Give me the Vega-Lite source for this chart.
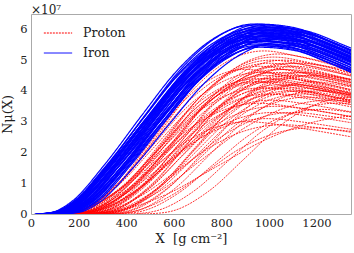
{
"$schema":"https://vega.github.io/schema/vega-lite/v6.json",
"width":320,"height":200,
"autosize":{"type":"none"},
"padding":{"left":31,"top":14,"right":3,"bottom":39},
"title":{"text":"×10⁷","anchor":"start","frame":"group","font":"DejaVu Serif","fontSize":12,"fontWeight":"normal","color":"#222222","offset":0,"dy":3},
"config":{"view":{"stroke":"#aaaaaa","strokeWidth":1},"font":"DejaVu Serif",
"axis":{"domain":false,"ticks":false,"grid":false,"labelFont":"DejaVu Serif","labelFontSize":11.5,"labelColor":"#222222","titleFont":"DejaVu Serif","titleFontSize":13,"titleFontWeight":"normal","titleColor":"#222222","labelFlush":false},
"legend":{"labelFont":"DejaVu Serif"}},
"data":{"values":[
{"g":"I","c":1,"x":15,"y":0},{"g":"I","c":1,"x":90,"y":0.06},{"g":"I","c":1,"x":165,"y":0.37},{"g":"I","c":1,"x":315,"y":1.66},{"g":"I","c":1,"x":465,"y":3.20},{"g":"I","c":1,"x":615,"y":4.67},{"g":"I","c":1,"x":765,"y":5.69},{"g":"I","c":1,"x":915,"y":6.12},{"g":"I","c":1,"x":1065,"y":6.00},{"g":"I","c":1,"x":1215,"y":5.57},{"g":"I","c":1,"x":1415,"y":4.86},
{"g":"I","c":2,"x":25,"y":0},{"g":"I","c":2,"x":100,"y":0.06},{"g":"I","c":2,"x":175,"y":0.36},{"g":"I","c":2,"x":325,"y":1.63},{"g":"I","c":2,"x":475,"y":3.15},{"g":"I","c":2,"x":625,"y":4.60},{"g":"I","c":2,"x":775,"y":5.60},{"g":"I","c":2,"x":925,"y":6.02},{"g":"I","c":2,"x":1075,"y":5.90},{"g":"I","c":2,"x":1225,"y":5.48},{"g":"I","c":2,"x":1425,"y":4.78},
{"g":"I","c":3,"x":20,"y":0},{"g":"I","c":3,"x":95,"y":0.06},{"g":"I","c":3,"x":170,"y":0.36},{"g":"I","c":3,"x":320,"y":1.61},{"g":"I","c":3,"x":470,"y":3.09},{"g":"I","c":3,"x":620,"y":4.52},{"g":"I","c":3,"x":770,"y":5.50},{"g":"I","c":3,"x":920,"y":5.92},{"g":"I","c":3,"x":1070,"y":5.80},{"g":"I","c":3,"x":1220,"y":5.38},{"g":"I","c":3,"x":1420,"y":4.70},
{"g":"I","c":4,"x":35,"y":0},{"g":"I","c":4,"x":110,"y":0.06},{"g":"I","c":4,"x":185,"y":0.35},{"g":"I","c":4,"x":335,"y":1.58},{"g":"I","c":4,"x":485,"y":3.04},{"g":"I","c":4,"x":635,"y":4.45},{"g":"I","c":4,"x":785,"y":5.41},{"g":"I","c":4,"x":935,"y":5.82},{"g":"I","c":4,"x":1085,"y":5.70},{"g":"I","c":4,"x":1235,"y":5.29},{"g":"I","c":4,"x":1435,"y":4.62},
{"g":"I","c":5,"x":45,"y":0},{"g":"I","c":5,"x":120,"y":0.06},{"g":"I","c":5,"x":195,"y":0.37},{"g":"I","c":5,"x":345,"y":1.65},{"g":"I","c":5,"x":495,"y":3.17},{"g":"I","c":5,"x":645,"y":4.64},{"g":"I","c":5,"x":795,"y":5.64},{"g":"I","c":5,"x":945,"y":6.07},{"g":"I","c":5,"x":1095,"y":5.95},{"g":"I","c":5,"x":1245,"y":5.52},{"g":"I","c":5,"x":1445,"y":4.82},
{"g":"I","c":6,"x":30,"y":0},{"g":"I","c":6,"x":105,"y":0.06},{"g":"I","c":6,"x":180,"y":0.35},{"g":"I","c":6,"x":330,"y":1.55},{"g":"I","c":6,"x":480,"y":2.99},{"g":"I","c":6,"x":630,"y":4.37},{"g":"I","c":6,"x":780,"y":5.32},{"g":"I","c":6,"x":930,"y":5.72},{"g":"I","c":6,"x":1080,"y":5.61},{"g":"I","c":6,"x":1230,"y":5.20},{"g":"I","c":6,"x":1430,"y":4.54},
{"g":"I","c":7,"x":55,"y":0},{"g":"I","c":7,"x":130,"y":0.06},{"g":"I","c":7,"x":205,"y":0.34},{"g":"I","c":7,"x":355,"y":1.53},{"g":"I","c":7,"x":505,"y":2.94},{"g":"I","c":7,"x":655,"y":4.29},{"g":"I","c":7,"x":805,"y":5.23},{"g":"I","c":7,"x":955,"y":5.62},{"g":"I","c":7,"x":1105,"y":5.51},{"g":"I","c":7,"x":1255,"y":5.11},{"g":"I","c":7,"x":1455,"y":4.46},
{"g":"I","c":8,"x":65,"y":0},{"g":"I","c":8,"x":140,"y":0.06},{"g":"I","c":8,"x":215,"y":0.35},{"g":"I","c":8,"x":365,"y":1.59},{"g":"I","c":8,"x":515,"y":3.07},{"g":"I","c":8,"x":665,"y":4.48},{"g":"I","c":8,"x":815,"y":5.46},{"g":"I","c":8,"x":965,"y":5.87},{"g":"I","c":8,"x":1115,"y":5.75},{"g":"I","c":8,"x":1265,"y":5.34},{"g":"I","c":8,"x":1465,"y":4.66},
{"g":"I","c":9,"x":75,"y":0},{"g":"I","c":9,"x":150,"y":0.06},{"g":"I","c":9,"x":225,"y":0.36},{"g":"I","c":9,"x":375,"y":1.62},{"g":"I","c":9,"x":525,"y":3.12},{"g":"I","c":9,"x":675,"y":4.56},{"g":"I","c":9,"x":825,"y":5.55},{"g":"I","c":9,"x":975,"y":5.97},{"g":"I","c":9,"x":1125,"y":5.85},{"g":"I","c":9,"x":1275,"y":5.43},{"g":"I","c":9,"x":1475,"y":4.74},
{"g":"I","c":10,"x":40,"y":0},{"g":"I","c":10,"x":115,"y":0.06},{"g":"I","c":10,"x":190,"y":0.33},{"g":"I","c":10,"x":340,"y":1.50},{"g":"I","c":10,"x":490,"y":2.89},{"g":"I","c":10,"x":640,"y":4.22},{"g":"I","c":10,"x":790,"y":5.13},{"g":"I","c":10,"x":940,"y":5.52},{"g":"I","c":10,"x":1090,"y":5.41},{"g":"I","c":10,"x":1240,"y":5.02},{"g":"I","c":10,"x":1440,"y":4.30},
{"g":"I","c":11,"x":85,"y":0},{"g":"I","c":11,"x":160,"y":0.06},{"g":"I","c":11,"x":235,"y":0.35},{"g":"I","c":11,"x":385,"y":1.57},{"g":"I","c":11,"x":535,"y":3.02},{"g":"I","c":11,"x":685,"y":4.41},{"g":"I","c":11,"x":835,"y":5.37},{"g":"I","c":11,"x":985,"y":5.77},{"g":"I","c":11,"x":1135,"y":5.66},{"g":"I","c":11,"x":1285,"y":5.25},{"g":"I","c":11,"x":1485,"y":4.58},
{"g":"I","c":12,"x":100,"y":0},{"g":"I","c":12,"x":175,"y":0.06},{"g":"I","c":12,"x":250,"y":0.34},{"g":"I","c":12,"x":400,"y":1.54},{"g":"I","c":12,"x":550,"y":2.96},{"g":"I","c":12,"x":700,"y":4.33},{"g":"I","c":12,"x":850,"y":5.27},{"g":"I","c":12,"x":1000,"y":5.67},{"g":"I","c":12,"x":1150,"y":5.56},{"g":"I","c":12,"x":1300,"y":5.16},{"g":"I","c":12,"x":1500,"y":4.50},
{"g":"I","c":13,"x":75,"y":0},{"g":"I","c":13,"x":150,"y":0.06},{"g":"I","c":13,"x":225,"y":0.33},{"g":"I","c":13,"x":375,"y":1.49},{"g":"I","c":13,"x":525,"y":2.86},{"g":"I","c":13,"x":675,"y":4.18},{"g":"I","c":13,"x":825,"y":5.09},{"g":"I","c":13,"x":975,"y":5.47},{"g":"I","c":13,"x":1125,"y":5.36},{"g":"I","c":13,"x":1275,"y":4.93},{"g":"I","c":13,"x":1475,"y":4.25},
{"g":"I","c":14,"x":60,"y":0},{"g":"I","c":14,"x":135,"y":0.06},{"g":"I","c":14,"x":210,"y":0.37},{"g":"I","c":14,"x":360,"y":1.67},{"g":"I","c":14,"x":510,"y":3.22},{"g":"I","c":14,"x":660,"y":4.71},{"g":"I","c":14,"x":810,"y":5.74},{"g":"I","c":14,"x":960,"y":6.17},{"g":"I","c":14,"x":1110,"y":6.05},{"g":"I","c":14,"x":1260,"y":5.61},{"g":"I","c":14,"x":1460,"y":4.90},
{"g":"I","c":15,"x":25,"y":0},{"g":"I","c":15,"x":100,"y":0.06},{"g":"I","c":15,"x":175,"y":0.34},{"g":"I","c":15,"x":325,"y":1.51},{"g":"I","c":15,"x":475,"y":2.91},{"g":"I","c":15,"x":625,"y":4.26},{"g":"I","c":15,"x":775,"y":5.18},{"g":"I","c":15,"x":925,"y":5.57},{"g":"I","c":15,"x":1075,"y":5.46},{"g":"I","c":15,"x":1225,"y":5.07},{"g":"I","c":15,"x":1425,"y":4.42},
{"g":"I","c":16,"x":50,"y":0},{"g":"I","c":16,"x":125,"y":0.06},{"g":"I","c":16,"x":200,"y":0.36},{"g":"I","c":16,"x":350,"y":1.61},{"g":"I","c":16,"x":500,"y":3.09},{"g":"I","c":16,"x":650,"y":4.52},{"g":"I","c":16,"x":800,"y":5.50},{"g":"I","c":16,"x":950,"y":5.92},{"g":"I","c":16,"x":1100,"y":5.80},{"g":"I","c":16,"x":1250,"y":5.38},{"g":"I","c":16,"x":1450,"y":4.70},
{"g":"I","c":17,"x":95,"y":0},{"g":"I","c":17,"x":170,"y":0.06},{"g":"I","c":17,"x":245,"y":0.35},{"g":"I","c":17,"x":395,"y":1.58},{"g":"I","c":17,"x":545,"y":3.04},{"g":"I","c":17,"x":695,"y":4.45},{"g":"I","c":17,"x":845,"y":5.41},{"g":"I","c":17,"x":995,"y":5.82},{"g":"I","c":17,"x":1145,"y":5.70},{"g":"I","c":17,"x":1295,"y":5.29},{"g":"I","c":17,"x":1495,"y":4.62},
{"g":"I","c":18,"x":70,"y":0},{"g":"I","c":18,"x":145,"y":0.06},{"g":"I","c":18,"x":220,"y":0.35},{"g":"I","c":18,"x":370,"y":1.55},{"g":"I","c":18,"x":520,"y":2.99},{"g":"I","c":18,"x":670,"y":4.37},{"g":"I","c":18,"x":820,"y":5.32},{"g":"I","c":18,"x":970,"y":5.72},{"g":"I","c":18,"x":1120,"y":5.61},{"g":"I","c":18,"x":1270,"y":5.20},{"g":"I","c":18,"x":1470,"y":4.54},
{"g":"I","c":19,"x":90,"y":0},{"g":"I","c":19,"x":165,"y":0.06},{"g":"I","c":19,"x":240,"y":0.36},{"g":"I","c":19,"x":390,"y":1.63},{"g":"I","c":19,"x":540,"y":3.15},{"g":"I","c":19,"x":690,"y":4.60},{"g":"I","c":19,"x":840,"y":5.60},{"g":"I","c":19,"x":990,"y":6.02},{"g":"I","c":19,"x":1140,"y":5.90},{"g":"I","c":19,"x":1290,"y":5.48},{"g":"I","c":19,"x":1490,"y":4.78},
{"g":"I","c":20,"x":60,"y":0},{"g":"I","c":20,"x":135,"y":0.05},{"g":"I","c":20,"x":210,"y":0.33},{"g":"I","c":20,"x":360,"y":1.47},{"g":"I","c":20,"x":510,"y":2.83},{"g":"I","c":20,"x":660,"y":4.14},{"g":"I","c":20,"x":810,"y":5.04},{"g":"I","c":20,"x":960,"y":5.42},{"g":"I","c":20,"x":1110,"y":5.31},{"g":"I","c":20,"x":1260,"y":4.88},{"g":"I","c":20,"x":1460,"y":4.20},
{"g":"I","c":21,"x":80,"y":0},{"g":"I","c":21,"x":155,"y":0.06},{"g":"I","c":21,"x":230,"y":0.34},{"g":"I","c":21,"x":380,"y":1.53},{"g":"I","c":21,"x":530,"y":2.94},{"g":"I","c":21,"x":680,"y":4.29},{"g":"I","c":21,"x":830,"y":5.23},{"g":"I","c":21,"x":980,"y":5.62},{"g":"I","c":21,"x":1130,"y":5.51},{"g":"I","c":21,"x":1280,"y":5.11},{"g":"I","c":21,"x":1480,"y":4.46},
{"g":"I","c":22,"x":30,"y":0},{"g":"I","c":22,"x":105,"y":0.06},{"g":"I","c":22,"x":180,"y":0.35},{"g":"I","c":22,"x":330,"y":1.59},{"g":"I","c":22,"x":480,"y":3.07},{"g":"I","c":22,"x":630,"y":4.48},{"g":"I","c":22,"x":780,"y":5.46},{"g":"I","c":22,"x":930,"y":5.87},{"g":"I","c":22,"x":1080,"y":5.75},{"g":"I","c":22,"x":1230,"y":5.34},{"g":"I","c":22,"x":1430,"y":4.66},
{"g":"I","c":23,"x":55,"y":0},{"g":"I","c":23,"x":130,"y":0.06},{"g":"I","c":23,"x":205,"y":0.35},{"g":"I","c":23,"x":355,"y":1.57},{"g":"I","c":23,"x":505,"y":3.02},{"g":"I","c":23,"x":655,"y":4.41},{"g":"I","c":23,"x":805,"y":5.37},{"g":"I","c":23,"x":955,"y":5.77},{"g":"I","c":23,"x":1105,"y":5.66},{"g":"I","c":23,"x":1255,"y":5.25},{"g":"I","c":23,"x":1455,"y":4.58},
{"g":"I","c":24,"x":105,"y":0},{"g":"I","c":24,"x":180,"y":0.06},{"g":"I","c":24,"x":255,"y":0.37},{"g":"I","c":24,"x":405,"y":1.65},{"g":"I","c":24,"x":555,"y":3.17},{"g":"I","c":24,"x":705,"y":4.64},{"g":"I","c":24,"x":855,"y":5.64},{"g":"I","c":24,"x":1005,"y":6.07},{"g":"I","c":24,"x":1155,"y":5.95},{"g":"I","c":24,"x":1305,"y":5.52},{"g":"I","c":24,"x":1505,"y":4.82},
{"g":"I","c":25,"x":45,"y":0},{"g":"I","c":25,"x":120,"y":0.06},{"g":"I","c":25,"x":195,"y":0.33},{"g":"I","c":25,"x":345,"y":1.49},{"g":"I","c":25,"x":495,"y":2.86},{"g":"I","c":25,"x":645,"y":4.18},{"g":"I","c":25,"x":795,"y":5.09},{"g":"I","c":25,"x":945,"y":5.47},{"g":"I","c":25,"x":1095,"y":5.36},{"g":"I","c":25,"x":1245,"y":4.95},{"g":"I","c":25,"x":1445,"y":4.28},
{"g":"I","c":26,"x":115,"y":0},{"g":"I","c":26,"x":190,"y":0.06},{"g":"I","c":26,"x":265,"y":0.36},{"g":"I","c":26,"x":415,"y":1.62},{"g":"I","c":26,"x":565,"y":3.12},{"g":"I","c":26,"x":715,"y":4.56},{"g":"I","c":26,"x":865,"y":5.55},{"g":"I","c":26,"x":1015,"y":5.97},{"g":"I","c":26,"x":1165,"y":5.85},{"g":"I","c":26,"x":1315,"y":5.43},{"g":"I","c":26,"x":1515,"y":4.74},
{"g":"I","c":27,"x":20,"y":0},{"g":"I","c":27,"x":95,"y":0.06},{"g":"I","c":27,"x":170,"y":0.34},{"g":"I","c":27,"x":320,"y":1.54},{"g":"I","c":27,"x":470,"y":2.96},{"g":"I","c":27,"x":620,"y":4.33},{"g":"I","c":27,"x":770,"y":5.27},{"g":"I","c":27,"x":920,"y":5.67},{"g":"I","c":27,"x":1070,"y":5.56},{"g":"I","c":27,"x":1220,"y":5.16},{"g":"I","c":27,"x":1420,"y":4.50},
{"g":"I","c":28,"x":130,"y":0},{"g":"I","c":28,"x":205,"y":0.06},{"g":"I","c":28,"x":280,"y":0.34},{"g":"I","c":28,"x":430,"y":1.51},{"g":"I","c":28,"x":580,"y":2.91},{"g":"I","c":28,"x":730,"y":4.26},{"g":"I","c":28,"x":880,"y":5.18},{"g":"I","c":28,"x":1030,"y":5.57},{"g":"I","c":28,"x":1180,"y":5.46},{"g":"I","c":28,"x":1330,"y":5.07},{"g":"I","c":28,"x":1530,"y":4.42},
{"g":"I","c":29,"x":70,"y":0},{"g":"I","c":29,"x":145,"y":0.06},{"g":"I","c":29,"x":220,"y":0.37},{"g":"I","c":29,"x":370,"y":1.66},{"g":"I","c":29,"x":520,"y":3.20},{"g":"I","c":29,"x":670,"y":4.67},{"g":"I","c":29,"x":820,"y":5.69},{"g":"I","c":29,"x":970,"y":6.12},{"g":"I","c":29,"x":1120,"y":6.00},{"g":"I","c":29,"x":1270,"y":5.57},{"g":"I","c":29,"x":1470,"y":4.86},
{"g":"I","c":30,"x":50,"y":0},{"g":"I","c":30,"x":125,"y":0.06},{"g":"I","c":30,"x":200,"y":0.35},{"g":"I","c":30,"x":350,"y":1.58},{"g":"I","c":30,"x":500,"y":3.04},{"g":"I","c":30,"x":650,"y":4.45},{"g":"I","c":30,"x":800,"y":5.41},{"g":"I","c":30,"x":950,"y":5.82},{"g":"I","c":30,"x":1100,"y":5.70},{"g":"I","c":30,"x":1250,"y":5.29},{"g":"I","c":30,"x":1450,"y":4.62},
{"g":"I","c":31,"x":40,"y":0},{"g":"I","c":31,"x":115,"y":0.06},{"g":"I","c":31,"x":190,"y":0.36},{"g":"I","c":31,"x":340,"y":1.62},{"g":"I","c":31,"x":490,"y":3.12},{"g":"I","c":31,"x":640,"y":4.56},{"g":"I","c":31,"x":790,"y":5.55},{"g":"I","c":31,"x":940,"y":5.97},{"g":"I","c":31,"x":1090,"y":5.85},{"g":"I","c":31,"x":1240,"y":5.43},{"g":"I","c":31,"x":1440,"y":4.74},
{"g":"I","c":32,"x":110,"y":0},{"g":"I","c":32,"x":185,"y":0.06},{"g":"I","c":32,"x":260,"y":0.35},{"g":"I","c":32,"x":410,"y":1.55},{"g":"I","c":32,"x":560,"y":2.99},{"g":"I","c":32,"x":710,"y":4.37},{"g":"I","c":32,"x":860,"y":5.32},{"g":"I","c":32,"x":1010,"y":5.72},{"g":"I","c":32,"x":1160,"y":5.61},{"g":"I","c":32,"x":1310,"y":5.20},{"g":"I","c":32,"x":1510,"y":4.54},
{"g":"I","c":33,"x":80,"y":0},{"g":"I","c":33,"x":155,"y":0.06},{"g":"I","c":33,"x":230,"y":0.37},{"g":"I","c":33,"x":380,"y":1.65},{"g":"I","c":33,"x":530,"y":3.17},{"g":"I","c":33,"x":680,"y":4.64},{"g":"I","c":33,"x":830,"y":5.64},{"g":"I","c":33,"x":980,"y":6.07},{"g":"I","c":33,"x":1130,"y":5.95},{"g":"I","c":33,"x":1280,"y":5.52},{"g":"I","c":33,"x":1480,"y":4.82},
{"g":"I","c":34,"x":35,"y":0},{"g":"I","c":34,"x":110,"y":0.06},{"g":"I","c":34,"x":185,"y":0.34},{"g":"I","c":34,"x":335,"y":1.53},{"g":"I","c":34,"x":485,"y":2.94},{"g":"I","c":34,"x":635,"y":4.29},{"g":"I","c":34,"x":785,"y":5.23},{"g":"I","c":34,"x":935,"y":5.62},{"g":"I","c":34,"x":1085,"y":5.51},{"g":"I","c":34,"x":1235,"y":5.11},{"g":"I","c":34,"x":1435,"y":4.46},
{"g":"I","c":35,"x":95,"y":0},{"g":"I","c":35,"x":170,"y":0.06},{"g":"I","c":35,"x":245,"y":0.36},{"g":"I","c":35,"x":395,"y":1.61},{"g":"I","c":35,"x":545,"y":3.09},{"g":"I","c":35,"x":695,"y":4.52},{"g":"I","c":35,"x":845,"y":5.50},{"g":"I","c":35,"x":995,"y":5.92},{"g":"I","c":35,"x":1145,"y":5.80},{"g":"I","c":35,"x":1295,"y":5.38},{"g":"I","c":35,"x":1495,"y":4.70},
{"g":"I","c":36,"x":30,"y":0},{"g":"I","c":36,"x":105,"y":0.06},{"g":"I","c":36,"x":180,"y":0.37},{"g":"I","c":36,"x":330,"y":1.67},{"g":"I","c":36,"x":480,"y":3.22},{"g":"I","c":36,"x":630,"y":4.71},{"g":"I","c":36,"x":780,"y":5.74},{"g":"I","c":36,"x":930,"y":6.17},{"g":"I","c":36,"x":1080,"y":6.05},{"g":"I","c":36,"x":1230,"y":5.61},{"g":"I","c":36,"x":1430,"y":4.90},
{"g":"I","c":37,"x":90,"y":0},{"g":"I","c":37,"x":165,"y":0.06},{"g":"I","c":37,"x":240,"y":0.33},{"g":"I","c":37,"x":390,"y":1.50},{"g":"I","c":37,"x":540,"y":2.89},{"g":"I","c":37,"x":690,"y":4.22},{"g":"I","c":37,"x":840,"y":5.13},{"g":"I","c":37,"x":990,"y":5.52},{"g":"I","c":37,"x":1140,"y":5.41},{"g":"I","c":37,"x":1290,"y":5.02},{"g":"I","c":37,"x":1490,"y":4.38},
{"g":"I","c":38,"x":25,"y":0},{"g":"I","c":38,"x":100,"y":0.06},{"g":"I","c":38,"x":175,"y":0.35},{"g":"I","c":38,"x":325,"y":1.57},{"g":"I","c":38,"x":475,"y":3.02},{"g":"I","c":38,"x":625,"y":4.41},{"g":"I","c":38,"x":775,"y":5.37},{"g":"I","c":38,"x":925,"y":5.77},{"g":"I","c":38,"x":1075,"y":5.66},{"g":"I","c":38,"x":1225,"y":5.25},{"g":"I","c":38,"x":1425,"y":4.58},
{"g":"I","c":39,"x":55,"y":0},{"g":"I","c":39,"x":130,"y":0.06},{"g":"I","c":39,"x":205,"y":0.36},{"g":"I","c":39,"x":355,"y":1.63},{"g":"I","c":39,"x":505,"y":3.15},{"g":"I","c":39,"x":655,"y":4.60},{"g":"I","c":39,"x":805,"y":5.60},{"g":"I","c":39,"x":955,"y":6.02},{"g":"I","c":39,"x":1105,"y":5.90},{"g":"I","c":39,"x":1255,"y":5.48},{"g":"I","c":39,"x":1455,"y":4.78},
{"g":"I","c":40,"x":120,"y":0},{"g":"I","c":40,"x":195,"y":0.06},{"g":"I","c":40,"x":270,"y":0.35},{"g":"I","c":40,"x":420,"y":1.59},{"g":"I","c":40,"x":570,"y":3.07},{"g":"I","c":40,"x":720,"y":4.48},{"g":"I","c":40,"x":870,"y":5.46},{"g":"I","c":40,"x":1020,"y":5.87},{"g":"I","c":40,"x":1170,"y":5.75},{"g":"I","c":40,"x":1320,"y":5.34},{"g":"I","c":40,"x":1520,"y":4.66},
{"g":"P","c":101,"x":80,"y":0},{"g":"P","c":101,"x":155,"y":0.03},{"g":"P","c":101,"x":230,"y":0.16},{"g":"P","c":101,"x":380,"y":1.06},{"g":"P","c":101,"x":530,"y":2.54},{"g":"P","c":101,"x":680,"y":4.03},{"g":"P","c":101,"x":830,"y":4.98},{"g":"P","c":101,"x":980,"y":5.30},{"g":"P","c":101,"x":1130,"y":5.11},{"g":"P","c":101,"x":1280,"y":4.82},{"g":"P","c":101,"x":1480,"y":4.40},
{"g":"P","c":102,"x":120,"y":0},{"g":"P","c":102,"x":195,"y":0.03},{"g":"P","c":102,"x":270,"y":0.15},{"g":"P","c":102,"x":420,"y":1.02},{"g":"P","c":102,"x":570,"y":2.45},{"g":"P","c":102,"x":720,"y":3.88},{"g":"P","c":102,"x":870,"y":4.79},{"g":"P","c":102,"x":1020,"y":5.10},{"g":"P","c":102,"x":1170,"y":4.92},{"g":"P","c":102,"x":1320,"y":4.64},{"g":"P","c":102,"x":1520,"y":4.23},
{"g":"P","c":103,"x":100,"y":0},{"g":"P","c":103,"x":175,"y":0.02},{"g":"P","c":103,"x":250,"y":0.15},{"g":"P","c":103,"x":400,"y":0.98},{"g":"P","c":103,"x":550,"y":2.35},{"g":"P","c":103,"x":700,"y":3.72},{"g":"P","c":103,"x":850,"y":4.61},{"g":"P","c":103,"x":1000,"y":4.90},{"g":"P","c":103,"x":1150,"y":4.73},{"g":"P","c":103,"x":1300,"y":4.46},{"g":"P","c":103,"x":1500,"y":4.07},
{"g":"P","c":104,"x":160,"y":0},{"g":"P","c":104,"x":235,"y":0.03},{"g":"P","c":104,"x":310,"y":0.15},{"g":"P","c":104,"x":460,"y":1.00},{"g":"P","c":104,"x":610,"y":2.40},{"g":"P","c":104,"x":760,"y":3.80},{"g":"P","c":104,"x":910,"y":4.70},{"g":"P","c":104,"x":1060,"y":5.00},{"g":"P","c":104,"x":1210,"y":4.83},{"g":"P","c":104,"x":1360,"y":4.55},{"g":"P","c":104,"x":1560,"y":4.15},
{"g":"P","c":105,"x":60,"y":0},{"g":"P","c":105,"x":135,"y":0.02},{"g":"P","c":105,"x":210,"y":0.14},{"g":"P","c":105,"x":360,"y":0.96},{"g":"P","c":105,"x":510,"y":2.30},{"g":"P","c":105,"x":660,"y":3.65},{"g":"P","c":105,"x":810,"y":4.51},{"g":"P","c":105,"x":960,"y":4.80},{"g":"P","c":105,"x":1110,"y":4.63},{"g":"P","c":105,"x":1260,"y":4.37},{"g":"P","c":105,"x":1460,"y":3.98},
{"g":"P","c":106,"x":140,"y":0},{"g":"P","c":106,"x":215,"y":0.02},{"g":"P","c":106,"x":290,"y":0.14},{"g":"P","c":106,"x":440,"y":0.94},{"g":"P","c":106,"x":590,"y":2.26},{"g":"P","c":106,"x":740,"y":3.57},{"g":"P","c":106,"x":890,"y":4.42},{"g":"P","c":106,"x":1040,"y":4.70},{"g":"P","c":106,"x":1190,"y":4.54},{"g":"P","c":106,"x":1340,"y":4.28},{"g":"P","c":106,"x":1540,"y":3.90},
{"g":"P","c":107,"x":200,"y":0},{"g":"P","c":107,"x":275,"y":0.02},{"g":"P","c":107,"x":350,"y":0.14},{"g":"P","c":107,"x":500,"y":0.92},{"g":"P","c":107,"x":650,"y":2.21},{"g":"P","c":107,"x":800,"y":3.50},{"g":"P","c":107,"x":950,"y":4.32},{"g":"P","c":107,"x":1100,"y":4.60},{"g":"P","c":107,"x":1250,"y":4.44},{"g":"P","c":107,"x":1400,"y":4.19},{"g":"P","c":107,"x":1600,"y":3.82},
{"g":"P","c":108,"x":90,"y":0},{"g":"P","c":108,"x":165,"y":0.02},{"g":"P","c":108,"x":240,"y":0.14},{"g":"P","c":108,"x":390,"y":0.90},{"g":"P","c":108,"x":540,"y":2.16},{"g":"P","c":108,"x":690,"y":3.42},{"g":"P","c":108,"x":840,"y":4.23},{"g":"P","c":108,"x":990,"y":4.50},{"g":"P","c":108,"x":1140,"y":4.34},{"g":"P","c":108,"x":1290,"y":4.10},{"g":"P","c":108,"x":1490,"y":3.74},
{"g":"P","c":109,"x":170,"y":0},{"g":"P","c":109,"x":245,"y":0.02},{"g":"P","c":109,"x":320,"y":0.13},{"g":"P","c":109,"x":470,"y":0.88},{"g":"P","c":109,"x":620,"y":2.11},{"g":"P","c":109,"x":770,"y":3.34},{"g":"P","c":109,"x":920,"y":4.14},{"g":"P","c":109,"x":1070,"y":4.40},{"g":"P","c":109,"x":1220,"y":4.25},{"g":"P","c":109,"x":1370,"y":4.00},{"g":"P","c":109,"x":1570,"y":3.65},
{"g":"P","c":110,"x":120,"y":0},{"g":"P","c":110,"x":195,"y":0.02},{"g":"P","c":110,"x":270,"y":0.13},{"g":"P","c":110,"x":420,"y":0.86},{"g":"P","c":110,"x":570,"y":2.06},{"g":"P","c":110,"x":720,"y":3.27},{"g":"P","c":110,"x":870,"y":4.04},{"g":"P","c":110,"x":1020,"y":4.30},{"g":"P","c":110,"x":1170,"y":4.15},{"g":"P","c":110,"x":1320,"y":3.91},{"g":"P","c":110,"x":1520,"y":3.57},
{"g":"P","c":111,"x":230,"y":0},{"g":"P","c":111,"x":305,"y":0.02},{"g":"P","c":111,"x":380,"y":0.13},{"g":"P","c":111,"x":530,"y":0.84},{"g":"P","c":111,"x":680,"y":2.02},{"g":"P","c":111,"x":830,"y":3.19},{"g":"P","c":111,"x":980,"y":3.95},{"g":"P","c":111,"x":1130,"y":4.20},{"g":"P","c":111,"x":1280,"y":4.05},{"g":"P","c":111,"x":1430,"y":3.82},{"g":"P","c":111,"x":1630,"y":3.49},
{"g":"P","c":112,"x":70,"y":0},{"g":"P","c":112,"x":145,"y":0.02},{"g":"P","c":112,"x":220,"y":0.12},{"g":"P","c":112,"x":370,"y":0.82},{"g":"P","c":112,"x":520,"y":1.97},{"g":"P","c":112,"x":670,"y":3.12},{"g":"P","c":112,"x":820,"y":3.85},{"g":"P","c":112,"x":970,"y":4.10},{"g":"P","c":112,"x":1120,"y":3.96},{"g":"P","c":112,"x":1270,"y":3.73},{"g":"P","c":112,"x":1470,"y":3.40},
{"g":"P","c":113,"x":190,"y":0},{"g":"P","c":113,"x":265,"y":0.02},{"g":"P","c":113,"x":340,"y":0.12},{"g":"P","c":113,"x":490,"y":0.80},{"g":"P","c":113,"x":640,"y":1.92},{"g":"P","c":113,"x":790,"y":3.04},{"g":"P","c":113,"x":940,"y":3.76},{"g":"P","c":113,"x":1090,"y":4.00},{"g":"P","c":113,"x":1240,"y":3.86},{"g":"P","c":113,"x":1390,"y":3.64},{"g":"P","c":113,"x":1590,"y":3.32},
{"g":"P","c":114,"x":150,"y":0},{"g":"P","c":114,"x":225,"y":0.02},{"g":"P","c":114,"x":300,"y":0.12},{"g":"P","c":114,"x":450,"y":0.78},{"g":"P","c":114,"x":600,"y":1.87},{"g":"P","c":114,"x":750,"y":2.96},{"g":"P","c":114,"x":900,"y":3.67},{"g":"P","c":114,"x":1050,"y":3.90},{"g":"P","c":114,"x":1200,"y":3.76},{"g":"P","c":114,"x":1350,"y":3.55},{"g":"P","c":114,"x":1550,"y":3.24},
{"g":"P","c":115,"x":260,"y":0},{"g":"P","c":115,"x":335,"y":0.02},{"g":"P","c":115,"x":410,"y":0.11},{"g":"P","c":115,"x":560,"y":0.76},{"g":"P","c":115,"x":710,"y":1.82},{"g":"P","c":115,"x":860,"y":2.89},{"g":"P","c":115,"x":1010,"y":3.57},{"g":"P","c":115,"x":1160,"y":3.80},{"g":"P","c":115,"x":1310,"y":3.67},{"g":"P","c":115,"x":1460,"y":3.46},{"g":"P","c":115,"x":1660,"y":3.15},
{"g":"P","c":116,"x":110,"y":0},{"g":"P","c":116,"x":185,"y":0.02},{"g":"P","c":116,"x":260,"y":0.11},{"g":"P","c":116,"x":410,"y":0.74},{"g":"P","c":116,"x":560,"y":1.78},{"g":"P","c":116,"x":710,"y":2.81},{"g":"P","c":116,"x":860,"y":3.48},{"g":"P","c":116,"x":1010,"y":3.70},{"g":"P","c":116,"x":1160,"y":3.57},{"g":"P","c":116,"x":1310,"y":3.37},{"g":"P","c":116,"x":1510,"y":3.07},
{"g":"P","c":117,"x":250,"y":0},{"g":"P","c":117,"x":325,"y":0.02},{"g":"P","c":117,"x":400,"y":0.14},{"g":"P","c":117,"x":550,"y":0.92},{"g":"P","c":117,"x":700,"y":2.21},{"g":"P","c":117,"x":850,"y":3.50},{"g":"P","c":117,"x":1000,"y":4.32},{"g":"P","c":117,"x":1150,"y":4.60},{"g":"P","c":117,"x":1300,"y":4.44},{"g":"P","c":117,"x":1450,"y":4.19},{"g":"P","c":117,"x":1650,"y":3.82},
{"g":"P","c":118,"x":210,"y":0},{"g":"P","c":118,"x":285,"y":0.02},{"g":"P","c":118,"x":360,"y":0.14},{"g":"P","c":118,"x":510,"y":0.96},{"g":"P","c":118,"x":660,"y":2.30},{"g":"P","c":118,"x":810,"y":3.65},{"g":"P","c":118,"x":960,"y":4.51},{"g":"P","c":118,"x":1110,"y":4.80},{"g":"P","c":118,"x":1260,"y":4.63},{"g":"P","c":118,"x":1410,"y":4.37},{"g":"P","c":118,"x":1610,"y":3.98},
{"g":"P","c":119,"x":60,"y":0},{"g":"P","c":119,"x":135,"y":0.02},{"g":"P","c":119,"x":210,"y":0.13},{"g":"P","c":119,"x":360,"y":0.88},{"g":"P","c":119,"x":510,"y":2.11},{"g":"P","c":119,"x":660,"y":3.34},{"g":"P","c":119,"x":810,"y":4.14},{"g":"P","c":119,"x":960,"y":4.40},{"g":"P","c":119,"x":1110,"y":4.25},{"g":"P","c":119,"x":1260,"y":4.00},{"g":"P","c":119,"x":1460,"y":3.65},
{"g":"P","c":120,"x":150,"y":0},{"g":"P","c":120,"x":225,"y":0.02},{"g":"P","c":120,"x":300,"y":0.13},{"g":"P","c":120,"x":450,"y":0.84},{"g":"P","c":120,"x":600,"y":2.02},{"g":"P","c":120,"x":750,"y":3.19},{"g":"P","c":120,"x":900,"y":3.95},{"g":"P","c":120,"x":1050,"y":4.20},{"g":"P","c":120,"x":1200,"y":4.05},{"g":"P","c":120,"x":1350,"y":3.82},{"g":"P","c":120,"x":1550,"y":3.49},
{"g":"P","c":121,"x":130,"y":0},{"g":"P","c":121,"x":205,"y":0.02},{"g":"P","c":121,"x":280,"y":0.11},{"g":"P","c":121,"x":430,"y":0.70},{"g":"P","c":121,"x":580,"y":1.68},{"g":"P","c":121,"x":730,"y":2.66},{"g":"P","c":121,"x":880,"y":3.29},{"g":"P","c":121,"x":1030,"y":3.50},{"g":"P","c":121,"x":1180,"y":3.38},{"g":"P","c":121,"x":1330,"y":3.19},{"g":"P","c":121,"x":1530,"y":2.91},
{"g":"P","c":122,"x":200,"y":0},{"g":"P","c":122,"x":275,"y":0.02},{"g":"P","c":122,"x":350,"y":0.10},{"g":"P","c":122,"x":500,"y":0.66},{"g":"P","c":122,"x":650,"y":1.58},{"g":"P","c":122,"x":800,"y":2.51},{"g":"P","c":122,"x":950,"y":3.10},{"g":"P","c":122,"x":1100,"y":3.30},{"g":"P","c":122,"x":1250,"y":3.18},{"g":"P","c":122,"x":1400,"y":3.00},{"g":"P","c":122,"x":1600,"y":2.74},
{"g":"P","c":123,"x":90,"y":0},{"g":"P","c":123,"x":165,"y":0.02},{"g":"P","c":123,"x":240,"y":0.09},{"g":"P","c":123,"x":390,"y":0.62},{"g":"P","c":123,"x":540,"y":1.49},{"g":"P","c":123,"x":690,"y":2.36},{"g":"P","c":123,"x":840,"y":2.91},{"g":"P","c":123,"x":990,"y":3.10},{"g":"P","c":123,"x":1140,"y":2.99},{"g":"P","c":123,"x":1290,"y":2.82},{"g":"P","c":123,"x":1490,"y":2.57},
{"g":"P","c":124,"x":160,"y":0},{"g":"P","c":124,"x":235,"y":0.01},{"g":"P","c":124,"x":310,"y":0.09},{"g":"P","c":124,"x":460,"y":0.58},{"g":"P","c":124,"x":610,"y":1.39},{"g":"P","c":124,"x":760,"y":2.20},{"g":"P","c":124,"x":910,"y":2.73},{"g":"P","c":124,"x":1060,"y":2.90},{"g":"P","c":124,"x":1210,"y":2.80},{"g":"P","c":124,"x":1360,"y":2.64},{"g":"P","c":124,"x":1560,"y":2.41},
{"g":"P","c":125,"x":280,"y":0},{"g":"P","c":125,"x":355,"y":0.01},{"g":"P","c":125,"x":430,"y":0.08},{"g":"P","c":125,"x":580,"y":0.56},{"g":"P","c":125,"x":730,"y":1.34},{"g":"P","c":125,"x":880,"y":2.13},{"g":"P","c":125,"x":1030,"y":2.63},{"g":"P","c":125,"x":1180,"y":2.80},{"g":"P","c":125,"x":1330,"y":2.70},{"g":"P","c":125,"x":1480,"y":2.55},{"g":"P","c":125,"x":1680,"y":2.32},
{"g":"P","c":126,"x":320,"y":0},{"g":"P","c":126,"x":395,"y":0.02},{"g":"P","c":126,"x":470,"y":0.10},{"g":"P","c":126,"x":620,"y":0.68},{"g":"P","c":126,"x":770,"y":1.63},{"g":"P","c":126,"x":920,"y":2.58},{"g":"P","c":126,"x":1070,"y":3.20},{"g":"P","c":126,"x":1220,"y":3.40},{"g":"P","c":126,"x":1370,"y":3.28},{"g":"P","c":126,"x":1520,"y":3.09},{"g":"P","c":126,"x":1720,"y":2.82},
{"g":"P","c":127,"x":300,"y":0},{"g":"P","c":127,"x":375,"y":0.02},{"g":"P","c":127,"x":450,"y":0.12},{"g":"P","c":127,"x":600,"y":0.80},{"g":"P","c":127,"x":750,"y":1.92},{"g":"P","c":127,"x":900,"y":3.04},{"g":"P","c":127,"x":1050,"y":3.76},{"g":"P","c":127,"x":1200,"y":4.00},{"g":"P","c":127,"x":1350,"y":3.86},{"g":"P","c":127,"x":1500,"y":3.64},{"g":"P","c":127,"x":1700,"y":3.32},
{"g":"P","c":128,"x":380,"y":0},{"g":"P","c":128,"x":455,"y":0.02},{"g":"P","c":128,"x":530,"y":0.11},{"g":"P","c":128,"x":680,"y":0.72},{"g":"P","c":128,"x":830,"y":1.73},{"g":"P","c":128,"x":980,"y":2.74},{"g":"P","c":128,"x":1130,"y":3.38},{"g":"P","c":128,"x":1280,"y":3.60},{"g":"P","c":128,"x":1430,"y":3.47},{"g":"P","c":128,"x":1580,"y":3.28},{"g":"P","c":128,"x":1780,"y":2.99},
{"g":"P","c":129,"x":450,"y":0},{"g":"P","c":129,"x":525,"y":0.02},{"g":"P","c":129,"x":600,"y":0.11},{"g":"P","c":129,"x":750,"y":0.76},{"g":"P","c":129,"x":900,"y":1.82},{"g":"P","c":129,"x":1050,"y":2.89},{"g":"P","c":129,"x":1200,"y":3.57},{"g":"P","c":129,"x":1350,"y":3.80},{"g":"P","c":129,"x":1500,"y":3.67},{"g":"P","c":129,"x":1650,"y":3.46},{"g":"P","c":129,"x":1850,"y":3.15},
{"g":"P","c":130,"x":40,"y":0},{"g":"P","c":130,"x":130,"y":0.02},{"g":"P","c":130,"x":220,"y":0.15},{"g":"P","c":130,"x":400,"y":0.98},{"g":"P","c":130,"x":580,"y":2.35},{"g":"P","c":130,"x":760,"y":3.72},{"g":"P","c":130,"x":940,"y":4.61},{"g":"P","c":130,"x":1120,"y":4.90},{"g":"P","c":130,"x":1300,"y":4.73},{"g":"P","c":130,"x":1480,"y":4.46},{"g":"P","c":130,"x":1720,"y":4.07},
{"g":"P","c":131,"x":110,"y":0},{"g":"P","c":131,"x":200,"y":0.02},{"g":"P","c":131,"x":290,"y":0.14},{"g":"P","c":131,"x":470,"y":0.90},{"g":"P","c":131,"x":650,"y":2.16},{"g":"P","c":131,"x":830,"y":3.42},{"g":"P","c":131,"x":1010,"y":4.23},{"g":"P","c":131,"x":1190,"y":4.50},{"g":"P","c":131,"x":1370,"y":4.34},{"g":"P","c":131,"x":1550,"y":4.10},{"g":"P","c":131,"x":1790,"y":3.74},
{"g":"P","c":132,"x":20,"y":0},{"g":"P","c":132,"x":110,"y":0.02},{"g":"P","c":132,"x":200,"y":0.12},{"g":"P","c":132,"x":380,"y":0.82},{"g":"P","c":132,"x":560,"y":1.97},{"g":"P","c":132,"x":740,"y":3.12},{"g":"P","c":132,"x":920,"y":3.85},{"g":"P","c":132,"x":1100,"y":4.10},{"g":"P","c":132,"x":1280,"y":3.96},{"g":"P","c":132,"x":1460,"y":3.73},{"g":"P","c":132,"x":1700,"y":3.40},
{"g":"P","c":133,"x":180,"y":0},{"g":"P","c":133,"x":270,"y":0.02},{"g":"P","c":133,"x":360,"y":0.11},{"g":"P","c":133,"x":540,"y":0.74},{"g":"P","c":133,"x":720,"y":1.78},{"g":"P","c":133,"x":900,"y":2.81},{"g":"P","c":133,"x":1080,"y":3.48},{"g":"P","c":133,"x":1260,"y":3.70},{"g":"P","c":133,"x":1440,"y":3.57},{"g":"P","c":133,"x":1620,"y":3.37},{"g":"P","c":133,"x":1860,"y":3.07},
{"g":"P","c":134,"x":150,"y":0},{"g":"P","c":134,"x":255,"y":0.02},{"g":"P","c":134,"x":360,"y":0.10},{"g":"P","c":134,"x":570,"y":0.64},{"g":"P","c":134,"x":780,"y":1.54},{"g":"P","c":134,"x":990,"y":2.43},{"g":"P","c":134,"x":1200,"y":3.01},{"g":"P","c":134,"x":1410,"y":3.20},{"g":"P","c":134,"x":1620,"y":3.09},{"g":"P","c":134,"x":1830,"y":2.91},{"g":"P","c":134,"x":2110,"y":2.66},
{"g":"P","c":135,"x":100,"y":0},{"g":"P","c":135,"x":168,"y":0.02},{"g":"P","c":135,"x":235,"y":0.09},{"g":"P","c":135,"x":370,"y":0.60},{"g":"P","c":135,"x":505,"y":1.44},{"g":"P","c":135,"x":640,"y":2.28},{"g":"P","c":135,"x":775,"y":2.82},{"g":"P","c":135,"x":910,"y":3.00},{"g":"P","c":135,"x":1045,"y":2.90},{"g":"P","c":135,"x":1180,"y":2.73},{"g":"P","c":135,"x":1360,"y":2.49},
{"g":"P","c":136,"x":130,"y":0},{"g":"P","c":136,"x":198,"y":0.02},{"g":"P","c":136,"x":265,"y":0.13},{"g":"P","c":136,"x":400,"y":0.86},{"g":"P","c":136,"x":535,"y":2.06},{"g":"P","c":136,"x":670,"y":3.27},{"g":"P","c":136,"x":805,"y":4.04},{"g":"P","c":136,"x":940,"y":4.30},{"g":"P","c":136,"x":1075,"y":4.15},{"g":"P","c":136,"x":1210,"y":3.91},{"g":"P","c":136,"x":1390,"y":3.57},
{"g":"P","c":137,"x":90,"y":0},{"g":"P","c":137,"x":158,"y":0.02},{"g":"P","c":137,"x":225,"y":0.14},{"g":"P","c":137,"x":360,"y":0.94},{"g":"P","c":137,"x":495,"y":2.26},{"g":"P","c":137,"x":630,"y":3.57},{"g":"P","c":137,"x":765,"y":4.42},{"g":"P","c":137,"x":900,"y":4.70},{"g":"P","c":137,"x":1035,"y":4.54},{"g":"P","c":137,"x":1170,"y":4.28},{"g":"P","c":137,"x":1350,"y":3.90},
{"g":"P","c":138,"x":240,"y":0},{"g":"P","c":138,"x":315,"y":0.02},{"g":"P","c":138,"x":390,"y":0.12},{"g":"P","c":138,"x":540,"y":0.78},{"g":"P","c":138,"x":690,"y":1.87},{"g":"P","c":138,"x":840,"y":2.96},{"g":"P","c":138,"x":990,"y":3.67},{"g":"P","c":138,"x":1140,"y":3.90},{"g":"P","c":138,"x":1290,"y":3.76},{"g":"P","c":138,"x":1440,"y":3.55},{"g":"P","c":138,"x":1640,"y":3.24},
{"g":"P","c":139,"x":180,"y":0},{"g":"P","c":139,"x":255,"y":0.02},{"g":"P","c":139,"x":330,"y":0.14},{"g":"P","c":139,"x":480,"y":0.90},{"g":"P","c":139,"x":630,"y":2.16},{"g":"P","c":139,"x":780,"y":3.42},{"g":"P","c":139,"x":930,"y":4.23},{"g":"P","c":139,"x":1080,"y":4.50},{"g":"P","c":139,"x":1230,"y":4.34},{"g":"P","c":139,"x":1380,"y":4.10},{"g":"P","c":139,"x":1580,"y":3.74},
{"g":"P","c":140,"x":110,"y":0},{"g":"P","c":140,"x":185,"y":0.03},{"g":"P","c":140,"x":260,"y":0.15},{"g":"P","c":140,"x":410,"y":1.00},{"g":"P","c":140,"x":560,"y":2.40},{"g":"P","c":140,"x":710,"y":3.80},{"g":"P","c":140,"x":860,"y":4.70},{"g":"P","c":140,"x":1010,"y":5.00},{"g":"P","c":140,"x":1160,"y":4.83},{"g":"P","c":140,"x":1310,"y":4.55},{"g":"P","c":140,"x":1510,"y":4.15},
{"g":"P","c":141,"x":280,"y":0},{"g":"P","c":141,"x":355,"y":0.02},{"g":"P","c":141,"x":430,"y":0.13},{"g":"P","c":141,"x":580,"y":0.86},{"g":"P","c":141,"x":730,"y":2.06},{"g":"P","c":141,"x":880,"y":3.27},{"g":"P","c":141,"x":1030,"y":4.04},{"g":"P","c":141,"x":1180,"y":4.30},{"g":"P","c":141,"x":1330,"y":4.15},{"g":"P","c":141,"x":1480,"y":3.91},{"g":"P","c":141,"x":1680,"y":3.57},
{"g":"P","c":142,"x":60,"y":0},{"g":"P","c":142,"x":135,"y":0.02},{"g":"P","c":142,"x":210,"y":0.11},{"g":"P","c":142,"x":360,"y":0.72},{"g":"P","c":142,"x":510,"y":1.73},{"g":"P","c":142,"x":660,"y":2.74},{"g":"P","c":142,"x":810,"y":3.38},{"g":"P","c":142,"x":960,"y":3.60},{"g":"P","c":142,"x":1110,"y":3.47},{"g":"P","c":142,"x":1260,"y":3.28},{"g":"P","c":142,"x":1460,"y":2.99},
{"g":"P","c":143,"x":180,"y":0},{"g":"P","c":143,"x":255,"y":0.02},{"g":"P","c":143,"x":330,"y":0.15},{"g":"P","c":143,"x":480,"y":0.98},{"g":"P","c":143,"x":630,"y":2.35},{"g":"P","c":143,"x":780,"y":3.72},{"g":"P","c":143,"x":930,"y":4.61},{"g":"P","c":143,"x":1080,"y":4.90},{"g":"P","c":143,"x":1230,"y":4.73},{"g":"P","c":143,"x":1380,"y":4.46},{"g":"P","c":143,"x":1580,"y":4.07},
{"g":"P","c":144,"x":130,"y":0},{"g":"P","c":144,"x":205,"y":0.02},{"g":"P","c":144,"x":280,"y":0.14},{"g":"P","c":144,"x":430,"y":0.92},{"g":"P","c":144,"x":580,"y":2.21},{"g":"P","c":144,"x":730,"y":3.50},{"g":"P","c":144,"x":880,"y":4.32},{"g":"P","c":144,"x":1030,"y":4.60},{"g":"P","c":144,"x":1180,"y":4.44},{"g":"P","c":144,"x":1330,"y":4.19},{"g":"P","c":144,"x":1530,"y":3.82},
{"g":"P","c":145,"x":100,"y":0},{"g":"P","c":145,"x":175,"y":0.02},{"g":"P","c":145,"x":250,"y":0.13},{"g":"P","c":145,"x":400,"y":0.88},{"g":"P","c":145,"x":550,"y":2.11},{"g":"P","c":145,"x":700,"y":3.34},{"g":"P","c":145,"x":850,"y":4.14},{"g":"P","c":145,"x":1000,"y":4.40},{"g":"P","c":145,"x":1150,"y":4.25},{"g":"P","c":145,"x":1300,"y":4.00},{"g":"P","c":145,"x":1500,"y":3.65},
{"g":"P","c":146,"x":200,"y":0},{"g":"P","c":146,"x":275,"y":0.02},{"g":"P","c":146,"x":350,"y":0.13},{"g":"P","c":146,"x":500,"y":0.84},{"g":"P","c":146,"x":650,"y":2.02},{"g":"P","c":146,"x":800,"y":3.19},{"g":"P","c":146,"x":950,"y":3.95},{"g":"P","c":146,"x":1100,"y":4.20},{"g":"P","c":146,"x":1250,"y":4.05},{"g":"P","c":146,"x":1400,"y":3.82},{"g":"P","c":146,"x":1600,"y":3.49},
{"g":"P","c":147,"x":140,"y":0},{"g":"P","c":147,"x":215,"y":0.02},{"g":"P","c":147,"x":290,"y":0.14},{"g":"P","c":147,"x":440,"y":0.96},{"g":"P","c":147,"x":590,"y":2.30},{"g":"P","c":147,"x":740,"y":3.65},{"g":"P","c":147,"x":890,"y":4.51},{"g":"P","c":147,"x":1040,"y":4.80},{"g":"P","c":147,"x":1190,"y":4.63},{"g":"P","c":147,"x":1340,"y":4.37},{"g":"P","c":147,"x":1540,"y":3.98},
{"g":"P","c":148,"x":240,"y":0},{"g":"P","c":148,"x":315,"y":0.02},{"g":"P","c":148,"x":390,"y":0.14},{"g":"P","c":148,"x":540,"y":0.90},{"g":"P","c":148,"x":690,"y":2.16},{"g":"P","c":148,"x":840,"y":3.42},{"g":"P","c":148,"x":990,"y":4.23},{"g":"P","c":148,"x":1140,"y":4.50},{"g":"P","c":148,"x":1290,"y":4.34},{"g":"P","c":148,"x":1440,"y":4.10},{"g":"P","c":148,"x":1640,"y":3.74},
{"g":"P","c":149,"x":120,"y":0},{"g":"P","c":149,"x":195,"y":0.02},{"g":"P","c":149,"x":270,"y":0.12},{"g":"P","c":149,"x":420,"y":0.82},{"g":"P","c":149,"x":570,"y":1.97},{"g":"P","c":149,"x":720,"y":3.12},{"g":"P","c":149,"x":870,"y":3.85},{"g":"P","c":149,"x":1020,"y":4.10},{"g":"P","c":149,"x":1170,"y":3.96},{"g":"P","c":149,"x":1320,"y":3.73},{"g":"P","c":149,"x":1520,"y":3.40},
{"g":"P","c":150,"x":170,"y":0},{"g":"P","c":150,"x":245,"y":0.02},{"g":"P","c":150,"x":320,"y":0.14},{"g":"P","c":150,"x":470,"y":0.94},{"g":"P","c":150,"x":620,"y":2.26},{"g":"P","c":150,"x":770,"y":3.57},{"g":"P","c":150,"x":920,"y":4.42},{"g":"P","c":150,"x":1070,"y":4.70},{"g":"P","c":150,"x":1220,"y":4.54},{"g":"P","c":150,"x":1370,"y":4.28},{"g":"P","c":150,"x":1570,"y":3.90},
{"g":"P","c":151,"x":80,"y":0},{"g":"P","c":151,"x":155,"y":0.02},{"g":"P","c":151,"x":230,"y":0.13},{"g":"P","c":151,"x":380,"y":0.86},{"g":"P","c":151,"x":530,"y":2.06},{"g":"P","c":151,"x":680,"y":3.27},{"g":"P","c":151,"x":830,"y":4.04},{"g":"P","c":151,"x":980,"y":4.30},{"g":"P","c":151,"x":1130,"y":4.15},{"g":"P","c":151,"x":1280,"y":3.91},{"g":"P","c":151,"x":1480,"y":3.57},
{"g":"P","c":152,"x":140,"y":0},{"g":"P","c":152,"x":215,"y":0.03},{"g":"P","c":152,"x":290,"y":0.16},{"g":"P","c":152,"x":440,"y":1.04},{"g":"P","c":152,"x":590,"y":2.50},{"g":"P","c":152,"x":740,"y":3.95},{"g":"P","c":152,"x":890,"y":4.89},{"g":"P","c":152,"x":1040,"y":5.20},{"g":"P","c":152,"x":1190,"y":5.02},{"g":"P","c":152,"x":1340,"y":4.73},{"g":"P","c":152,"x":1540,"y":4.32},
{"g":"P","c":153,"x":100,"y":0},{"g":"P","c":153,"x":175,"y":0.02},{"g":"P","c":153,"x":250,"y":0.12},{"g":"P","c":153,"x":400,"y":0.78},{"g":"P","c":153,"x":550,"y":1.87},{"g":"P","c":153,"x":700,"y":2.96},{"g":"P","c":153,"x":850,"y":3.67},{"g":"P","c":153,"x":1000,"y":3.90},{"g":"P","c":153,"x":1150,"y":3.76},{"g":"P","c":153,"x":1300,"y":3.55},{"g":"P","c":153,"x":1500,"y":3.24},
{"g":"P","c":154,"x":230,"y":0},{"g":"P","c":154,"x":305,"y":0.02},{"g":"P","c":154,"x":380,"y":0.12},{"g":"P","c":154,"x":530,"y":0.80},{"g":"P","c":154,"x":680,"y":1.92},{"g":"P","c":154,"x":830,"y":3.04},{"g":"P","c":154,"x":980,"y":3.76},{"g":"P","c":154,"x":1130,"y":4.00},{"g":"P","c":154,"x":1280,"y":3.86},{"g":"P","c":154,"x":1430,"y":3.64},{"g":"P","c":154,"x":1630,"y":3.32},
{"g":"P","c":155,"x":60,"y":0},{"g":"P","c":155,"x":135,"y":0.02},{"g":"P","c":155,"x":210,"y":0.14},{"g":"P","c":155,"x":360,"y":0.92},{"g":"P","c":155,"x":510,"y":2.21},{"g":"P","c":155,"x":660,"y":3.50},{"g":"P","c":155,"x":810,"y":4.32},{"g":"P","c":155,"x":960,"y":4.60},{"g":"P","c":155,"x":1110,"y":4.44},{"g":"P","c":155,"x":1260,"y":4.19},{"g":"P","c":155,"x":1460,"y":3.82},
{"g":"P","c":156,"x":120,"y":0},{"g":"P","c":156,"x":195,"y":0.02},{"g":"P","c":156,"x":270,"y":0.10},{"g":"P","c":156,"x":420,"y":0.66},{"g":"P","c":156,"x":570,"y":1.58},{"g":"P","c":156,"x":720,"y":2.51},{"g":"P","c":156,"x":870,"y":3.10},{"g":"P","c":156,"x":1020,"y":3.30},{"g":"P","c":156,"x":1170,"y":3.18},{"g":"P","c":156,"x":1320,"y":3.00},{"g":"P","c":156,"x":1520,"y":2.74}
]},
"encoding":{
"x":{"field":"x","type":"quantitative","scale":{"domain":[0,1345],"nice":false,"zero":false},"axis":{"values":[0,200,400,600,800,1000,1200],"format":"d","title":"X\u00a0\u00a0[g cm⁻²]","labelPadding":3,"titlePadding":4}},
"y":{"field":"y","type":"quantitative","scale":{"domain":[0,6.5],"nice":false},"axis":{"values":[0,1,2,3,4,5,6],"title":"Nμ(X)","labelPadding":4,"titlePadding":5}},
"color":{"field":"g","type":"nominal","scale":{"domain":["P","I"],"range":["#ff0000","#0000ff"]},"legend":{"orient":"top-left","title":null,"offset":12,"symbolType":"stroke","symbolSize":800,"symbolStrokeWidth":1,"clipHeight":14,"rowPadding":6,"labelOffset":10,"labelFontSize":12.5,"labelColor":"#222222","padding":0,"labelExpr":"datum.label == 'P' ? 'Proton' : 'Iron'"}},
"strokeDash":{"field":"g","type":"nominal","scale":{"domain":["P","I"],"range":[[2,1],[1,0]]},"legend":{"orient":"top-left","title":null,"offset":12,"symbolType":"stroke","symbolSize":800,"symbolStrokeWidth":1,"clipHeight":14,"rowPadding":6,"labelOffset":10,"labelFontSize":12.5,"labelColor":"#222222","padding":0,"labelExpr":"datum.label == 'P' ? 'Proton' : 'Iron'"}},
"detail":{"field":"c","type":"nominal"}
},
"layer":[
{"transform":[{"filter":{"field":"g","equal":"P"}}],"mark":{"type":"line","interpolate":"monotone","clip":true,"strokeWidth":0.8}},
{"transform":[{"filter":{"field":"g","equal":"I"}}],"mark":{"type":"line","interpolate":"monotone","clip":true,"strokeWidth":1.2}}
]
}
